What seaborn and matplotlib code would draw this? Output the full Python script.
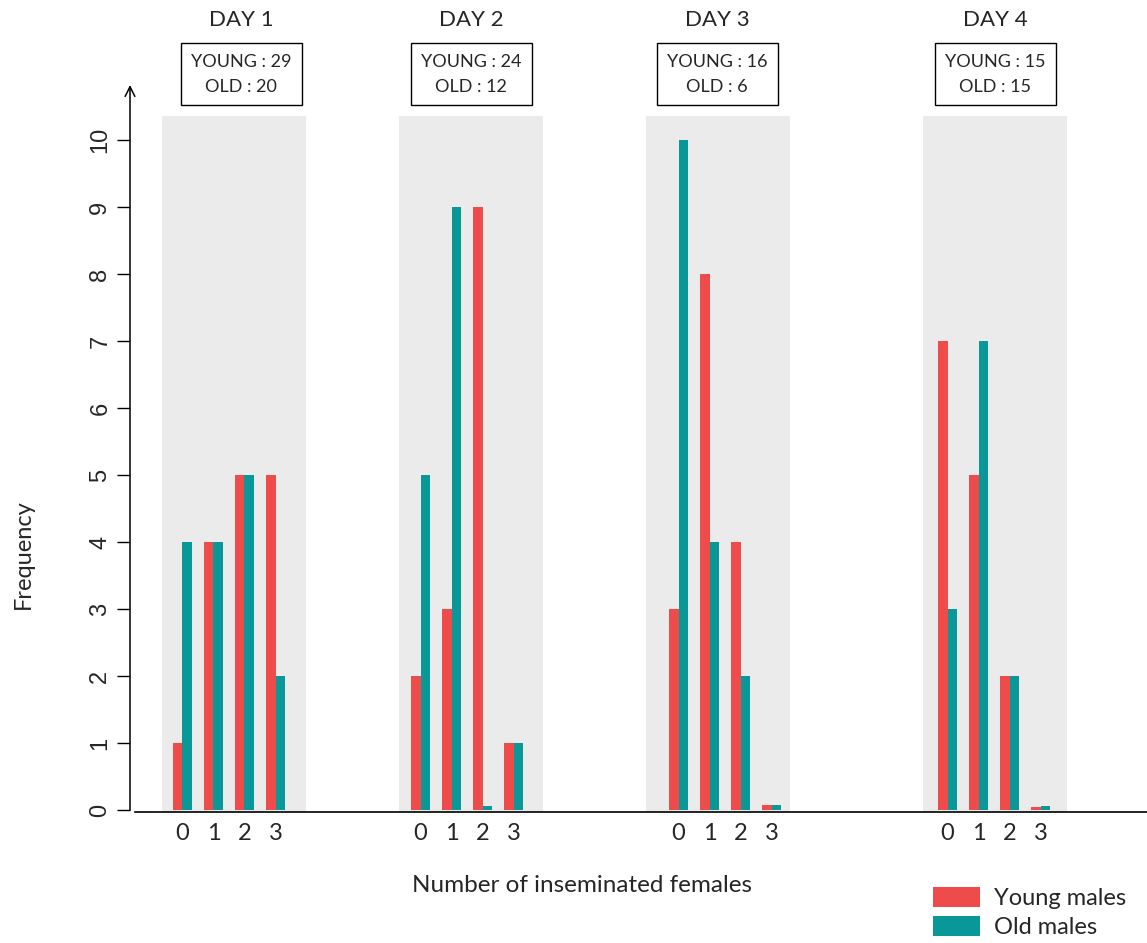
import numpy as np
import pandas as pd
import matplotlib
matplotlib.use("Agg")
import matplotlib.pyplot as plt
from matplotlib.patches import Rectangle
import seaborn as sns

# ---------------- data ----------------
days = ["DAY 1", "DAY 2", "DAY 3", "DAY 4"]
categories = [0, 1, 2, 3]
young_counts = [29, 24, 16, 15]
old_counts = [20, 12, 6, 15]
young_freq = [
    [1, 4, 5, 5],
    [2, 3, 9, 1],
    [3, 8, 4, 0.07],
    [7, 5, 2, 0.04],
]
old_freq = [
    [4, 4, 5, 2],
    [5, 9, 0.06, 1],
    [10, 4, 2, 0.07],
    [3, 7, 2, 0.06],
]
series_labels = ["Young males", "Old males"]
colors = ["#EE4B4B", "#0A9797"]
y_ticks = list(range(0, 11))

# ---------------- layout (pixel based) ----------------
W, H = 1147, 943
group_centers = [229, 467, 725, 994]
cat_step = 31
panel_centers = [234, 471, 718, 995]
panel_width = 144
header_centers = [241, 471, 717, 995]

rows = []
tick_pos = []
tick_lab = []
for d, day in enumerate(days):
    for c, cat in enumerate(categories):
        x = group_centers[d] + (c - 1.5) * cat_step
        tick_pos.append(x)
        tick_lab.append(str(cat))
        rows.append(dict(x=x, day=day, group=series_labels[0], freq=young_freq[d][c]))
        rows.append(dict(x=x, day=day, group=series_labels[1], freq=old_freq[d][c]))
df = pd.DataFrame(rows)

sns.set_style("white")
plt.rcParams["font.family"] = ["Lato", "DejaVu Sans"]

fig = plt.figure(figsize=(W / 100, H / 100), dpi=100)
ax_left, ax_right = 130, 1147
ax_top, ax_bottom = 85, 812
ax = fig.add_axes([ax_left / W, 1 - ax_bottom / H,
                   (ax_right - ax_left) / W, (ax_bottom - ax_top) / H])
px_per_unit = 67.0
y0_px = 810
ymin = -(ax_bottom - y0_px) / px_per_unit
ymax = (y0_px - ax_top) / px_per_unit

# grey panels
panel_top = (y0_px - 116) / px_per_unit
for pc in panel_centers:
    ax.add_patch(Rectangle((pc - panel_width / 2, ymin), panel_width, panel_top - ymin,
                           facecolor="#EBEBEB", edgecolor="none", zorder=0))

sns.barplot(data=df, x="x", y="freq", hue="group", hue_order=series_labels,
            palette=colors, native_scale=True, width=0.6, errorbar=None,
            linewidth=0, saturation=1, ax=ax)

ax.set_xlim(ax_left, ax_right)
ax.set_ylim(ymin, ymax)

# x ticks
ax.set_xticks(tick_pos)
ax.set_xticklabels(tick_lab, fontsize=17)
ax.tick_params(axis="x", length=0, pad=8)
ax.set_xlabel("")
ax.set_ylabel("")

# y ticks
ax.set_yticks(y_ticks)
ax.set_yticklabels([str(v) for v in y_ticks], fontsize=17, family="Liberation Sans")
ax.tick_params(axis="y", length=9.5, width=1.0, direction="out", pad=4, color="black",
               labelrotation=90, left=True)
plt.setp(ax.get_yticklabels(), va="center", ha="right")

for s in ["top", "right", "left"]:
    ax.spines[s].set_visible(False)
ax.spines["bottom"].set_bounds(135, ax_right)
ax.spines["bottom"].set_linewidth(1.2)
ax.spines["bottom"].set_color("black")

ax.annotate("", xy=(ax_left, ymax), xytext=(ax_left, 0),
            arrowprops=dict(arrowstyle="->,head_length=0.7,head_width=0.35",
                            lw=1.1, color="black", shrinkA=0, shrinkB=0),
            annotation_clip=False)

# headers and boxes
for d, day in enumerate(days):
    cx = header_centers[d]
    fig.text(cx / W, 1 - 20 / H, day, ha="center", va="center", fontsize=16)
    fig.add_artist(Rectangle(((cx - 60.5) / W, 1 - 105 / H), 121 / W, 62 / H,
                             transform=fig.transFigure, fill=False,
                             edgecolor="black", lw=1.0))
    fig.text(cx / W, 1 - 62 / H, f"YOUNG : {young_counts[d]}", ha="center",
             va="center", fontsize=13)
    fig.text(cx / W, 1 - 87 / H, f"OLD : {old_counts[d]}", ha="center",
             va="center", fontsize=13)

fig.text(23 / W, 1 - 554 / H, "Frequency", rotation=90, ha="center", va="center",
         fontsize=17)
fig.text(582 / W, 1 - 886 / H, "Number of inseminated females", ha="center",
         va="center", fontsize=17.5)

leg = ax.get_legend()
handles = leg.legend_handles
labels = [t.get_text() for t in leg.get_texts()]
leg.remove()
fig.legend(handles, labels, loc="upper left", bbox_to_anchor=(933 / W, 1 - 887 / H),
           bbox_transform=fig.transFigure, frameon=False, fontsize=17,
           handlelength=2.0, handleheight=0.9, handletextpad=0.6,
           labelspacing=0.3, borderpad=0, borderaxespad=0)

fig.savefig("out.png", dpi=100)
